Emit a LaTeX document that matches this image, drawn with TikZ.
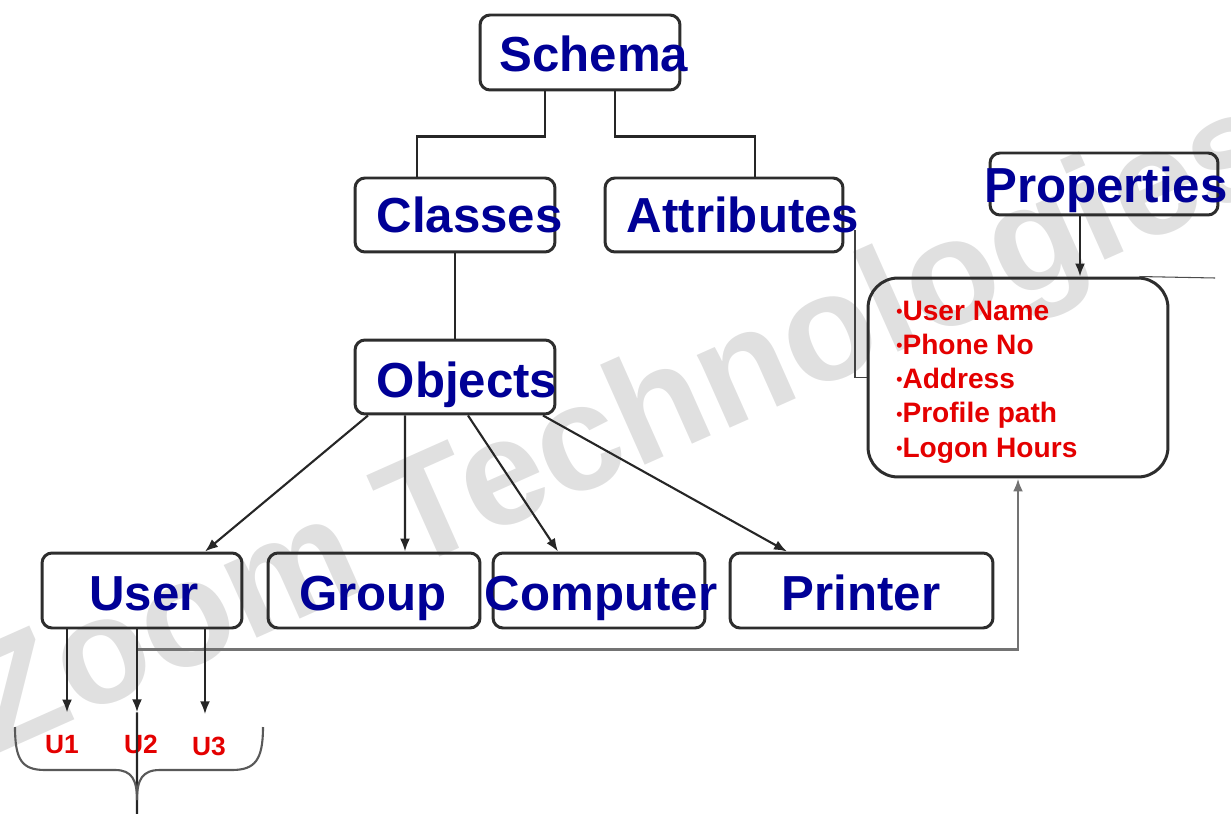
\documentclass[tikz,border=0pt]{standalone}
\usepackage{fontspec}
\setmainfont{Liberation Sans}
\usetikzlibrary{arrows.meta}
\usetikzlibrary{positioning}
\definecolor{schblue}{RGB}{0,0,150}
\definecolor{propred}{RGB}{228,0,0}
\definecolor{edge}{RGB}{45,45,45}
\tikzset{obox/.style = {draw=edge, line width=1.7pt, rounded corners=0.2cm,
                        inner sep=0, minimum height=1.5cm}}
\tikzset{otext/.style = {text=schblue, font=\fontsize{28}{30}\selectfont\bfseries,
                         anchor=base, inner sep=0}}
\tikzset{link/.style = {draw=black!85, line width=1.6pt}}
\tikzset{thin link/.style = {draw=black!85, line width=1.2pt}}
\tikzset{arr/.style = {-{Latex[length=2.6mm, width=2mm]}}}
\tikzset{utext/.style = {text=propred, font=\fontsize{15}{17}\selectfont\bfseries,
                         anchor=base, inner xsep=0, inner ysep=0.44cm}}
\tikzset{ptext/.style = {text=propred, font=\fontsize{16}{18}\selectfont\bfseries,
                         anchor=base west, inner sep=0}}
\newcommand{\pdot}{{\fontsize{10}{10}\selectfont\raisebox{0.15em}{•}}}
\begin{document}
\begin{tikzpicture}[x=0.02cm, y=-0.02cm]
      \useasboundingbox (0,0) rectangle (1231,814);
      % watermark
      \node [rotate=24, text=black!12, font=\fontsize{86}{90}\selectfont\bfseries]
            (mark) at (625,432) {Zoom Technologies};

      % boxes
      \node [obox, minimum width=4cm] (schema) at (580,52.5) {};
      \node [obox, minimum width=4cm, minimum height=1.48cm] (classes) at (455,215) {};
      \node [obox, minimum width=4.76cm, minimum height=1.48cm] (attrs) at (724,215) {};
      \node [obox, minimum width=4.56cm, minimum height=1.24cm] (props) at (1104,184) {};
      \node [obox, minimum width=4cm, minimum height=1.48cm] (objects) at (455,377) {};
      \node [obox, minimum width=4cm] (user) at (142,590.5) {};
      \node [obox, minimum width=4.24cm] (group) at (374,590.5) {};
      \node [obox, minimum width=4.24cm] (computer) at (599,590.5) {};
      \node [obox, minimum width=5.26cm] (printer) at (861.5,590.5) {};
      \node [obox, minimum width=6cm, minimum height=3.98cm, rounded corners=0.6cm]
            (plist) at (1018,377.5) {};

      % tree
      \draw [link] ([xshift=-0.7cm]schema.south) -- ++(0,45) -| ([xshift=-0.76cm]classes.north);
      \draw [link] ([xshift=0.7cm]schema.south) -- ++(0,45) -| ([xshift=0.62cm]attrs.north);
      \draw [link] (classes) -- (objects);
      \draw [thin link, arr] ([xshift=-1.74cm]objects.south) -- ([xshift=1.26cm]user.north);
      \draw [thin link, arr] ([xshift=-1cm]objects.south) -- ([xshift=0.62cm]group.north);
      \draw [thin link, arr] ([xshift=0.26cm]objects.south) -- ([xshift=-0.82cm]computer.north);
      \draw [thin link, arr] ([xshift=1.76cm]objects.south) -- ([xshift=-1.49cm]printer.north);

      % properties
      \draw [thin link, arr] ([xshift=-0.48cm]props.south) -- ([xshift=-0.48cm]props.south |- plist.north);
      \coordinate (rim) at (1215,278);
      \draw [black!70, line width=0.6pt] ([xshift=-0.6cm]plist.north east) -- (rim);
      \coordinate (atail) at (855,230);
      \draw [black!75, line width=1pt] (atail) |- (plist.west);
      \draw [black!55, line width=1.5pt, arr] ([xshift=-0.1cm]user.south) -- ++(0,20) -| (plist.south);

      \foreach \ptxt [count=\i] in {User Name, Phone No, Address, Profile path, Logon Hours}
        \node [ptext] (prop\i) at (896, {285.7+34.3*\i}) {\pdot\ptxt};

      % users
      \node [utext] (u1) at (62,753) {U1};
      \node [utext] (u2) at (141,753) {U2};
      \node [utext] (u3) at (209,755) {U3};
      \draw [thin link, arr] ([xshift=-1.5cm]user.south) -- ([xshift=-1.5cm]user.south |- u1.north);
      \draw [thin link, arr] ([xshift=-0.1cm]user.south) -- ([xshift=-0.1cm]user.south |- u2.north);
      \draw [thin link, arr] ([xshift=1.26cm]user.south) -- ([xshift=1.26cm]user.south |- u3.north);
      \coordinate (btm) at (137,814);
      \draw [thin link] ([xshift=-0.1cm]user.south |- u2.north) -- (btm);
      \draw [black!65, line width=1.2pt] (15,727) .. controls (15,760) and (22,770) .. (45,770)
            -- (115,770) .. controls (132,770) and (137,780) .. (137,800)
            .. controls (137,780) and (142,770) .. (160,770) -- (232,770)
            .. controls (255,770) and (263,760) .. (263,727);

      % labels
      \node [otext] (schema-t) at (594,72) {Schema};
      \node [otext] (classes-t) at (469.5,233) {Classes};
      \node [otext] (attrs-t) at (743,233) {Attributes};
      \node [otext] (props-t) at (1106,203) {Properties};
      \node [otext] (objects-t) at (467,398) {Objects};
      \node [otext] (user-t) at (144,610) {User};
      \node [otext] (group-t) at (373,610) {Group};
      \node [otext] (computer-t) at (601,610) {Computer};
      \node [otext] (printer-t) at (861,610) {Printer};
\end{tikzpicture}
\end{document}
